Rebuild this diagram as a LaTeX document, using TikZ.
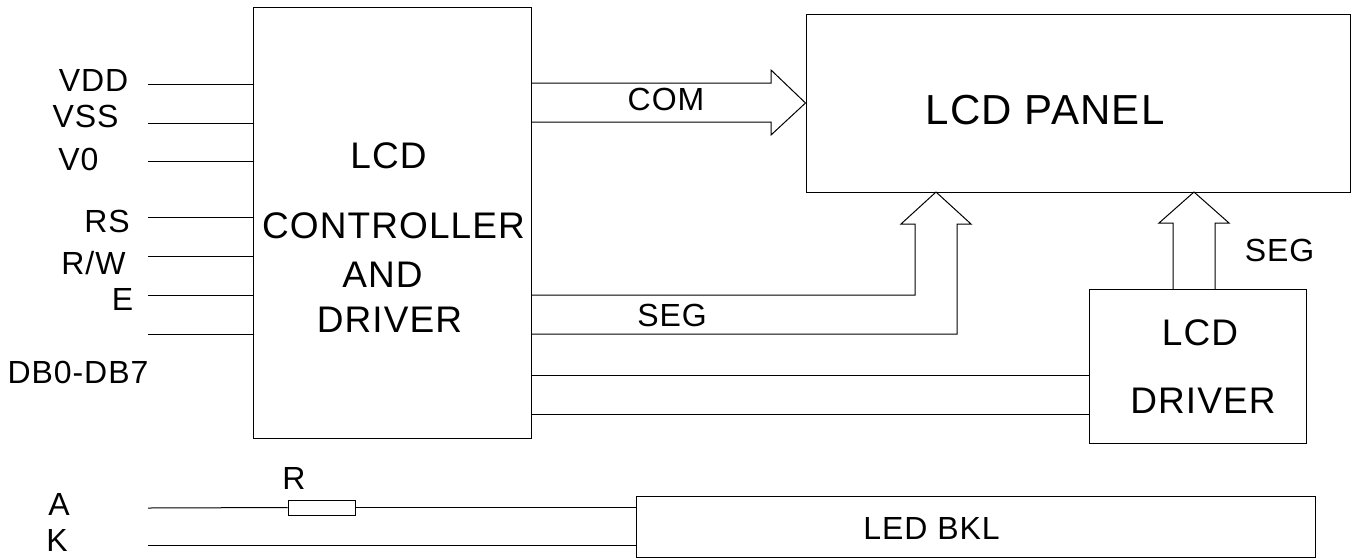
\documentclass[tikz,border=0pt]{standalone}
\usepackage{fontspec}
\setmainfont[LetterSpace=3]{Liberation Sans}
\usetikzlibrary{positioning}

\begin{document}
\begin{tikzpicture}[x=1pt, y=-1pt, line width=1pt, block/.style={rectangle, draw, inner sep=0pt}, pinlabel/.style={inner sep=0pt, font=\fontsize{32}{36}\selectfont}, boxlabel/.style={inner sep=0pt, font=\fontsize{37}{42}\selectfont}]

  \useasboundingbox (0,0) rectangle (1354,558);

  \node[block, minimum width=278pt, minimum height=431pt] (ctrl) at (392,222.5) {};
  \node[block, minimum width=544pt, minimum height=178pt] (panel) at (1078,103) {};
  \node[block, minimum width=217pt, minimum height=154pt] (drv) at (1197.5,366) {};
  \node[block, minimum width=679pt, minimum height=61pt] (bkl) at (975.5,526.5) {};
  \node[block, minimum width=67pt, minimum height=15pt] (res) at (321.5,507.5) {};

  % pins on the left
  \foreach \name/\ypos in {vdd/84, vss/123, vzero/161, rs/217, rw/256, en/295, db/334}
    \coordinate (\name) at (148,\ypos);
  \foreach \name in {vdd, vss, vzero, rs, rw, en, db}
    \draw (\name) -- (\name -| ctrl.west);

  \node[pinlabel] (vddlabel) at (93.5,80) {VDD};
  \node[pinlabel] (vsslabel) at (85.5,116.5) {VSS};
  \node[pinlabel] (vzerolabel) at (78.5,159) {V0};
  \node[pinlabel] (rslabel) at (107,221) {RS};
  \node[pinlabel] (rwlabel) at (93.5,263) {R/W};
  \node[pinlabel] (enlabel) at (122.5,299) {E};
  \node[pinlabel] (dblabel) at (78,372) {DB0-DB7};

  % backlight
  \coordinate (anode) at (148,508);
  \coordinate (cathode) at (148,545);
  \draw (anode) -- (res.west);
  \draw (res.east) -- (res.east -| bkl.west);
  \draw (cathode) -- (cathode -| bkl.west);
  \node[pinlabel] (alabel) at (59,504.5) {A};
  \node[pinlabel] (klabel) at (57,540) {K};
  \node[pinlabel] (rlabel) at (294,478) {R};

  % bus arrows
  \coordinate (comtop) at (531,83);
  \coordinate (combot) at (531,122);
  \coordinate (segtop) at (531,295);
  \coordinate (segbot) at (531,334);
  \coordinate (segtip) at (936,192);
  \coordinate (drvtip) at (1194,192);
  \draw (comtop) -- (771,83) -- (771,70) -- (panel.west) -- (771,135) -- (771,122) -- (combot);
  \draw (segtop) -- (915,295) -- (915,224) -- (901,224) -- (segtip) -- (971,224) -- (957,224) -- (957,334) -- (segbot);
  \draw (1173,289) -- (1173,223) -- (1159,223) -- (drvtip) -- (1229,223) -- (1215,223) -- (1215,289);
  \draw (531,375) -- (531,375 -| drv.west);
  \draw (531,414) -- (531,414 -| drv.west);

  \node[pinlabel] (comlabel) at (666,99) {COM};
  \node[pinlabel] (seglabel) at (672,315) {SEG};
  \node[pinlabel] (drvseg) at (1279.5,250.5) {SEG};

  % texts in the boxes
  \node[boxlabel] (ctrlone) at (388.5,155.5) {LCD};
  \node[boxlabel] (ctrltwo) at (393.5,225.5) {CONTROLLER};
  \node[boxlabel] (ctrlthree) at (382.5,274.5) {AND};
  \node[boxlabel] (ctrlfour) at (389.5,320) {DRIVER};
  \node[boxlabel, font=\fontsize{42}{48}\selectfont] (panellabel) at (1045,110) {LCD PANEL};
  \node[boxlabel] (drvone) at (1200,333) {LCD};
  \node[boxlabel] (drvtwo) at (1203,401) {DRIVER};
  \node[pinlabel] (bkllabel) at (931.5,528) {LED BKL};
\end{tikzpicture}
\end{document}
